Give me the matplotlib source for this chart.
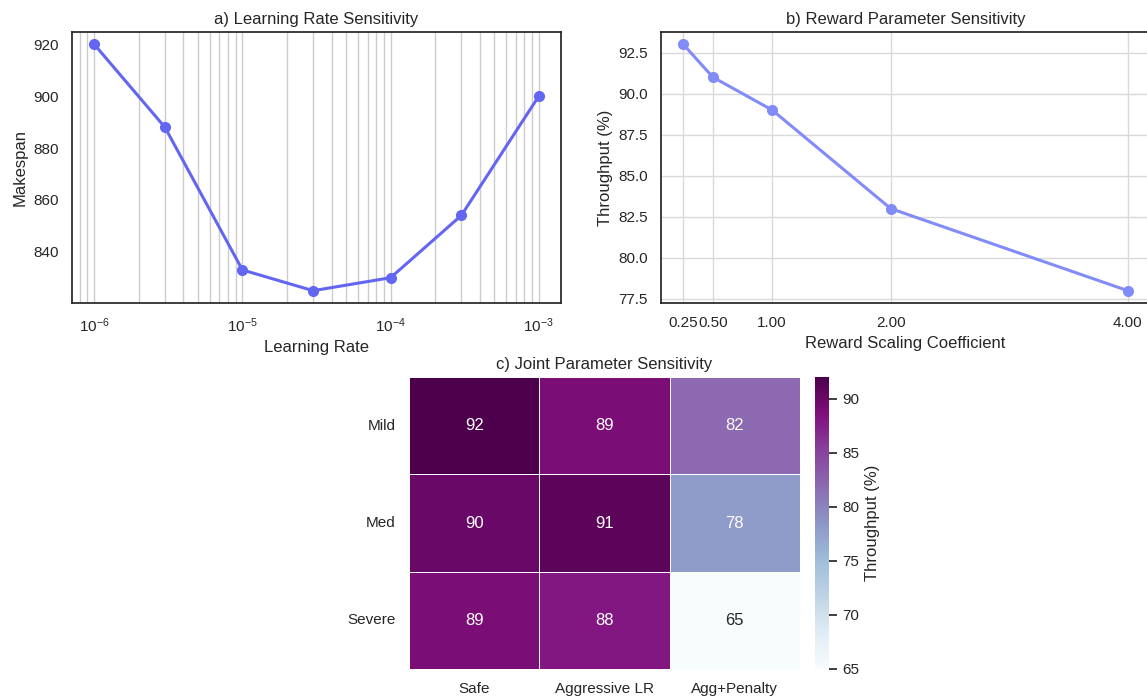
import numpy as np
import matplotlib
matplotlib.use("Agg")
import matplotlib.pyplot as plt
import seaborn as sns
from matplotlib.ticker import FormatStrFormatter

sns.set_theme(style="white", context="notebook")
plt.rcParams['font.family'] = ['Liberation Sans', 'DejaVu Sans']

# Data
learning_rates = [1e-6, 3e-6, 1e-5, 3e-5, 1e-4, 3e-4, 1e-3]
makespan = [920, 888, 833, 825, 830, 854, 900]

reward_coeffs = [0.25, 0.5, 1.0, 2.0, 4.0]
throughput = [93, 91, 89, 83, 78]

heat_rows = ["Mild", "Med", "Severe"]
heat_cols = ["Safe", "Aggressive LR", "Agg+Penalty"]
heat_values = [[92, 89, 82],
               [90, 91, 78],
               [89, 88, 65]]

W, H = 1147, 700
fig = plt.figure(figsize=(W / 100, H / 100), dpi=100)

def box(l, t, r, b):
    return [l / W, 1 - b / H, (r - l) / W, (b - t) / H]

# a) Learning rate
ax1 = fig.add_axes(box(72, 32, 561, 303))
ax1.plot(learning_rates, makespan, color="#6366f1", lw=2.2, marker="o", ms=7)
ax1.set_xscale("log")
ax1.grid(True, which="both", axis="x", color=".8", lw=1)
ax1.set_axisbelow(True)
ax1.set_title("a) Learning Rate Sensitivity", fontsize=12)
ax1.set_xlabel("Learning Rate", fontsize=12)
ax1.set_ylabel("Makespan", fontsize=12)
ax1.set_yticks([840, 860, 880, 900, 920])

# b) Reward parameter
ax2 = fig.add_axes(box(661, 32, 1150, 303))
ax2.plot(reward_coeffs, throughput, color="#818cf8", lw=2.2, marker="o", ms=7)
ax2.set_xticks(reward_coeffs)
ax2.xaxis.set_major_formatter(FormatStrFormatter("%.2f"))
ax2.grid(True, color=".85", lw=1)
ax2.set_axisbelow(True)
ax2.set_title("b) Reward Parameter Sensitivity", fontsize=12)
ax2.set_xlabel("Reward Scaling Coefficient", fontsize=12)
ax2.set_ylabel("Throughput (%)", fontsize=12)

# c) Heatmap
ax3 = fig.add_axes(box(409, 377, 800, 669))
cax = fig.add_axes(box(815, 377, 829, 669))
sns.heatmap(np.array(heat_values), annot=True, fmt="d", cmap="BuPu",
            linewidths=0.7, linecolor="white",
            xticklabels=heat_cols, yticklabels=heat_rows,
            ax=ax3, cbar_ax=cax, cbar_kws={"label": "Throughput (%)"},
            annot_kws={"fontsize": 12})
ax3.set_yticklabels(heat_rows, rotation=0)
ax3.set_xticklabels(heat_cols, rotation=0)
ax3.set_title("c) Joint Parameter Sensitivity", fontsize=12)
cax.set_ylabel("Throughput (%)", fontsize=12)

fig.savefig("out.png", dpi=100)
